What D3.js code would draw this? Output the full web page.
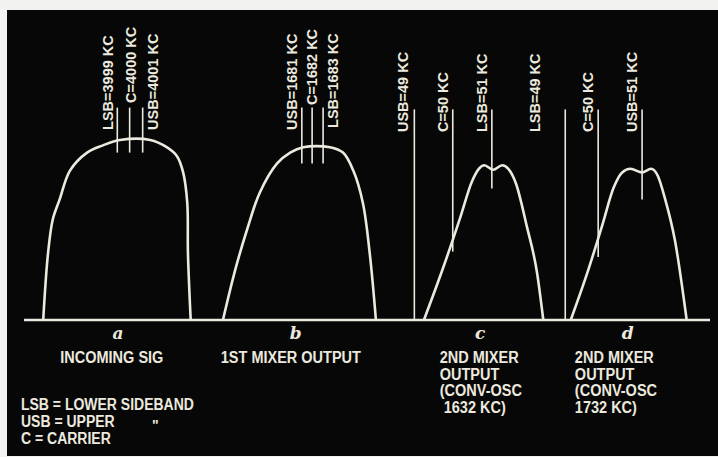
<!DOCTYPE html>
<html lang="en">
<head>
  <meta charset="utf-8">
  <title>Mixer output spectra</title>
  <script src="https://d3js.org/d3.v7.min.js"></script>
  <style>
    body { margin: 0; background: #f2f2f0; }
    svg { display: block; }
    text { font-family: "Liberation Sans", Arial, sans-serif; font-weight: bold; fill: #ece9df; }
  </style>
</head>
<body>
<script>
// passband shapes, x in diagram units (0-100), y = relative amplitude (0-100)
var curveA = [[2.8,0],[3.5,37],[4.2,56],[5.2,67],[6.7,83],[9.2,93],[11.5,97],[14.0,100],[18.4,100],[20.8,96],[22.3,91],[23.2,82],[23.8,65],[23.9,37],[24.3,0]];
var curveB = [[29.0,0],[30.8,28],[32.5,50],[34.4,71],[36.9,87],[38.8,93],[40.7,96],[44.6,96],[46.5,93],[48.0,83],[49.4,65],[50.4,37],[51.3,0]];
var curveC = [[58.3,0],[61.1,29],[63.6,57],[65.3,77],[66.3,84],[67.1,86],[68.4,83.5],[69.7,86],[70.6,84],[71.7,76],[73.3,52],[74.8,26],[75.7,0]];
var curveD = [[79.7,0],[82.1,26],[84.4,54],[85.9,73],[87.2,82],[88.4,84],[90.1,82],[91.4,84],[92.4,80],[93.4,68],[94.9,44],[96.6,0]];

// frequency markers: label, x, top, bottom, label x, label bottom
var markerLabels = ["LSB=3999 KC", "C=4000 KC", "USB=4001 KC",
                    "USB=1681 KC", "C=1682 KC", "LSB=1683 KC",
                    "USB=49 KC", "C=50 KC", "LSB=51 KC",
                    "LSB=49 KC", "C=50 KC", "USB=51 KC"];
var markerX      = [13.6, 15.4, 17.3, 40.5, 42.0, 43.6, 56.9, 62.5, 68.2, 78.9, 83.7, 90.1];
var markerTop    = [118, 118, 118, 118, 118, 118, 117, 117, 117, 117, 117, 117];
var markerBottom = [93, 93, 93, 87, 87, 87, 0, 38, 73, 0, 35, 67];
var labelX       = [12.2, 15.6, 18.7, 39.1, 42.0, 45.0, 55.2, 61.1, 66.8, 74.5, 82.2, 88.6];
var labelAmp     = [105.6, 120.6, 105.6, 105.6, 119.4, 106.7, 104.4, 104.4, 104.4, 104.4, 104.4, 104.4];

var panelLetters = ["a", "b", "c", "d"];
var letterX      = [13.7, 39.6, 66.5, 88.0];
var captions = [
  ["INCOMING SIG"],
  ["1ST MIXER OUTPUT"],
  ["2ND MIXER", "OUTPUT", "(CONV-OSC", "\u00a01632 KC)"],
  ["2ND MIXER", "OUTPUT", "(CONV-OSC", "1732 KC)"]
];
var captionX      = [12.8, 38.9, 60.6, 80.3];
var captionAnchor = ["middle", "middle", "start", "start"];

var legendLines = ["LSB = LOWER SIDEBAND", "USB = UPPER", "C = CARRIER"];

var W = 718, H = 457, ink = "#ece9df", stretch = 1.13;

var svg = d3.select("body").append("svg")
  .attr("width", W)
  .attr("height", H);

// black photo plate
svg.append("rect")
  .attr("x", 7).attr("y", 10)
  .attr("width", W - 7).attr("height", H - 11)
  .attr("fill", "#070707");

var x = d3.scaleLinear().domain([0, 100]).range([24, 710]);
var y = d3.scaleLinear().domain([0, 100]).range([320, 140]);

// baseline
svg.append("line")
  .attr("x1", x(0)).attr("x2", x(100))
  .attr("y1", y(0)).attr("y2", y(0))
  .attr("stroke", ink).attr("stroke-width", 2.5);

// round-topped bands are smoothed through their points,
// the double-humped ones keep flat tops and dips
var smooth = d3.line()
  .x(function(d) { return x(d[0]); })
  .y(function(d) { return y(d[1]); })
  .curve(d3.curveCatmullRom.alpha(0.5));
var humped = d3.line()
  .x(function(d) { return x(d[0]); })
  .y(function(d) { return y(d[1]); })
  .curve(d3.curveMonotoneX);

svg.selectAll(".band")
  .data([curveA, curveB, curveC, curveD])
  .enter().append("path")
  .attr("class", "band")
  .attr("d", function(d, i) { return i < 2 ? smooth(d) : humped(d); })
  .attr("fill", "none")
  .attr("stroke", ink)
  .attr("stroke-width", 2.6)
  .attr("stroke-linejoin", "round");

// marker lines
svg.selectAll(".marker")
  .data(markerX)
  .enter().append("line")
  .attr("class", "marker")
  .attr("x1", function(d) { return x(d); })
  .attr("x2", function(d) { return x(d); })
  .attr("y1", function(d, i) { return y(markerTop[i]); })
  .attr("y2", function(d, i) { return y(markerBottom[i]); })
  .attr("stroke", ink)
  .attr("stroke-width", 1.6);

// rotated marker labels
svg.selectAll(".mlabel")
  .data(markerLabels)
  .enter().append("text")
  .attr("class", "mlabel")
  .attr("transform", function(d, i) {
    return "translate(" + x(labelX[i]) + "," + y(labelAmp[i]) + ") rotate(-90)";
  })
  .attr("dy", "0.36em")
  .attr("font-size", 14.5)
  .text(function(d) { return d; });

// panel letters
svg.selectAll(".letter")
  .data(panelLetters)
  .enter().append("text")
  .attr("class", "letter")
  .attr("x", function(d, i) { return x(letterX[i]); })
  .attr("y", 339)
  .attr("text-anchor", "middle")
  .style("font-family", "'DejaVu Serif', serif")
  .style("font-style", "italic")
  .attr("font-size", 17)
  .text(function(d) { return d; });

// captions (slightly tall lettering, as in the print)
var cap = svg.selectAll(".caption")
  .data(captions)
  .enter().append("text")
  .attr("class", "caption")
  .attr("font-size", 14.5)
  .attr("transform", function(d, i) {
    return "translate(" + x(captionX[i]) + ",363) scale(1," + stretch + ")";
  })
  .attr("text-anchor", function(d, i) { return captionAnchor[i]; });

cap.selectAll("tspan")
  .data(function(d) { return d; })
  .enter().append("tspan")
  .attr("x", 0)
  .attr("y", function(d, j) { return j * 16.6 / stretch; })
  .text(function(d) { return d; });

// legend
var leg = svg.append("text")
  .attr("font-size", 14)
  .attr("transform", "translate(21,410) scale(1," + stretch + ")");
leg.selectAll("tspan")
  .data(legendLines)
  .enter().append("tspan")
  .attr("x", 0)
  .attr("y", function(d, i) { return i * 17 / stretch; })
  .text(function(d) { return d; });

svg.append("text")
  .attr("x", 152).attr("y", 430)
  .attr("font-size", 14)
  .text("\"");
</script>
</body>
</html>
